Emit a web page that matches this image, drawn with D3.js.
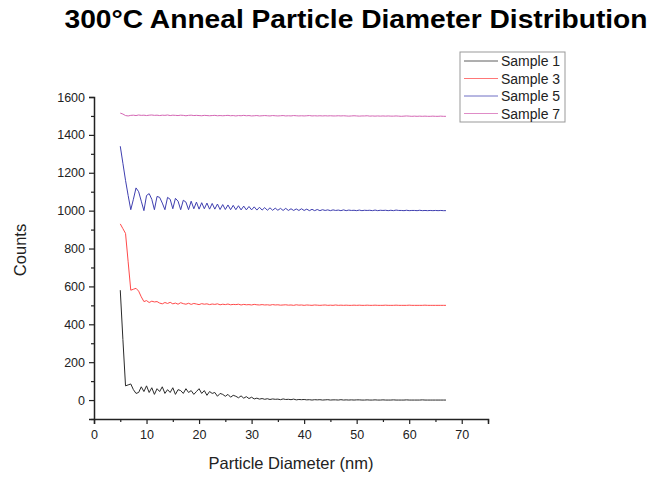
<!DOCTYPE html>
<html>
<head>
<meta charset="utf-8">
<script src="https://cdn.jsdelivr.net/npm/d3@7"></script>
<style>
  body { margin: 0; background: #fff; }
  svg { font-family: "Liberation Sans", Arial, sans-serif; }
</style>
</head>
<body>
<svg id="chart"></svg>
<script>
// bin centres (nm), shared by all samples
const diameters = [
  5, 5.5, 6, 6.5, 7, 7.5, 8, 8.5, 9, 9.5, 10, 10.5, 11, 11.5, 12, 12.5, 13, 13.5, 14, 14.5,
  15, 15.5, 16, 16.5, 17, 17.5, 18, 18.5, 19, 19.5, 20, 20.5, 21, 21.5, 22, 22.5, 23, 23.5, 24, 24.5,
  25, 25.5, 26, 26.5, 27, 27.5, 28, 28.5, 29, 29.5, 30, 30.5, 31, 31.5, 32, 32.5, 33, 33.5, 34, 34.5,
  35, 35.5, 36, 36.5, 37, 37.5, 38, 38.5, 39, 39.5, 40, 40.5, 41, 41.5, 42, 42.5, 43, 43.5, 44, 44.5,
  45, 45.5, 46, 46.5, 47, 47.5, 48, 48.5, 49, 49.5, 50, 50.5, 51, 51.5, 52, 52.5, 53, 53.5, 54, 54.5,
  55, 55.5, 56, 56.5, 57, 57.5, 58, 58.5, 59, 59.5, 60, 60.5, 61, 61.5, 62, 62.5, 63, 63.5, 64, 64.5,
  65, 65.5, 66, 66.5, 67
];

const sample1 = [
  580, 320, 75, 80, 85, 55, 35, 40, 70, 45, 75, 40, 65, 30, 60, 45, 70, 35, 55, 40,
  65, 30, 55, 50, 35, 60, 40, 50, 30, 45, 60, 35, 50, 25, 45, 35, 40, 20, 35, 30,
  20, 30, 15, 25, 20, 12, 22, 10, 18, 8, 15, 6, 10, 5, 8, 4, 7, 3, 6, 4,
  5, 2, 6, 3, 4, 2, 5, 1, 3, 2, 3, 1, 2, 0, 2, 1, 2, 0, 1, 2,
  0, 1, 1, 0, 2, 0, 1, 0, 1, 0, 1, 1, 0, 0, 1, 0, 0, 1, 0, 0,
  1, 0, 0, 0, 1, 0, 0, 0, 0, 1, 0, 0, 0, 0, 0, 1, 0, 0, 0, 0,
  0, 0, 0, 0, 0
];

const sample3 = [
  930, 905, 880, 730, 580, 585, 590, 575, 545, 520, 525, 515, 522, 518, 520, 512, 508, 515, 510, 516,
  508, 512, 506, 514, 509, 506, 511, 505, 510, 507, 504, 509, 506, 508, 504, 507, 505, 508, 503, 506,
  504, 507, 503, 505, 504, 506, 502, 505, 503, 504, 502, 505, 503, 502, 504, 502, 503, 501, 504, 502,
  503, 501, 502, 503, 501, 502, 500, 503, 501, 502, 500, 502, 501, 500, 502, 501, 500, 501, 502, 500,
  501, 500, 502, 500, 501, 500, 501, 500, 500, 501, 500, 501, 500, 500, 501, 500, 500, 501, 500, 500,
  500, 501, 500, 500, 500, 501, 500, 500, 500, 500, 501, 500, 500, 500, 500, 500, 501, 500, 500, 500,
  500, 500, 500, 500, 500
];

const sample5 = [
  1340, 1250, 1160, 1080, 1005, 1060, 1120, 1100, 1050, 1000, 1080, 1090, 1060, 1005, 1075, 1070, 1040, 1005, 1070, 1060,
  1010, 1065, 1050, 1005, 1055, 1045, 1005, 1050, 1010, 1045, 1008, 1042, 1010, 1040, 1008, 1038, 1008, 1035, 1006, 1032,
  1006, 1030, 1005, 1028, 1005, 1026, 1004, 1024, 1004, 1022, 1004, 1020, 1003, 1018, 1003, 1016, 1002, 1015, 1002, 1013,
  1002, 1012, 1001, 1012, 1001, 1010, 1001, 1009, 1001, 1010, 1001, 1008, 1000, 1007, 1000, 1006, 1000, 1005, 1001, 1004,
  1000, 1004, 1001, 1003, 1000, 1004, 1000, 1003, 1001, 1002, 1000, 1003, 1000, 1002, 1001, 1002, 1000, 1003, 1000, 1002,
  1001, 1002, 1000, 1002, 1000, 1003, 1001, 1001, 1000, 1002, 1000, 1001, 1001, 1000, 1002, 1000, 1001, 1000, 1001, 1000,
  1001, 1000, 1001, 1000, 1000
];

const sample7 = [
  1515, 1510, 1502, 1500, 1503, 1504, 1502, 1505, 1503, 1504, 1502, 1504, 1505, 1503, 1504, 1502, 1504, 1503, 1505, 1502,
  1504, 1503, 1502, 1504, 1503, 1501, 1503, 1504, 1502, 1503, 1502, 1501, 1503, 1502, 1501, 1502, 1503, 1501, 1502, 1501,
  1502, 1503, 1501, 1502, 1500, 1502, 1501, 1503, 1501, 1502, 1500, 1501, 1502, 1500, 1501, 1502, 1501, 1500, 1502, 1501,
  1500, 1501, 1502, 1500, 1501, 1500, 1502, 1501, 1500, 1501, 1500, 1501, 1502, 1500, 1501, 1500, 1501, 1500, 1501, 1500,
  1501, 1500, 1500, 1501, 1500, 1501, 1500, 1499, 1500, 1501, 1500, 1499, 1500, 1500, 1501, 1499, 1500, 1499, 1500, 1499,
  1500, 1499, 1500, 1499, 1499, 1500, 1499, 1498, 1499, 1500, 1499, 1498, 1499, 1498, 1499, 1498, 1499, 1498, 1498, 1499,
  1498, 1498, 1499, 1498, 1498
];

const seriesNames = ["Sample 1", "Sample 3", "Sample 5", "Sample 7"];
const seriesValues = [sample1, sample3, sample5, sample7];
const seriesColors = ["#2a2a2a", "#ff4a4a", "#3f3fb0", "#d466b4"];

const xTicks = [0, 10, 20, 30, 40, 50, 60, 70];
const xMinor = [5, 15, 25, 35, 45, 55, 65, 75];
const yTicks = [0, 200, 400, 600, 800, 1000, 1200, 1400, 1600];
const yMinor = [-100, 100, 300, 500, 700, 900, 1100, 1300, 1500];

const width = 650, height = 477;
const plotLeft = 94, plotRight = 488, plotTop = 97, plotBottom = 419;

const svg = d3.select('#chart').attr('width', width).attr('height', height);

const x = d3.scaleLinear().domain([0, 75]).range([plotLeft, plotRight]);
const y = d3.scaleLinear().domain([-100, 1600]).range([plotBottom, plotTop]);

// lines
const line = d3.line()
  .x((d, i) => x(diameters[i]))
  .y(d => y(d));

svg.append('g')
  .selectAll('path')
  .data(seriesValues)
  .enter()
  .append('path')
  .attr('d', line)
  .attr('fill', 'none')
  .attr('stroke', (d, i) => seriesColors[i])
  .attr('stroke-width', 1)
  .attr('stroke-linejoin', 'round');

// axes
svg.append('g')
  .attr('transform', `translate(0,${plotBottom})`)
  .call(d3.axisBottom(x).tickValues(xTicks).tickSize(5).tickPadding(6).tickFormat(d3.format('d')));
svg.append('g')
  .attr('transform', `translate(0,${plotBottom})`)
  .call(d3.axisBottom(x).tickValues(xMinor).tickSize(3).tickFormat(''))
  .select('.domain').remove();

svg.append('g')
  .attr('transform', `translate(${plotLeft},0)`)
  .call(d3.axisLeft(y).tickValues(yTicks).tickSize(5).tickPadding(4).tickFormat(d3.format('d')));
svg.append('g')
  .attr('transform', `translate(${plotLeft},0)`)
  .call(d3.axisLeft(y).tickValues(yMinor).tickSize(3).tickFormat(''))
  .select('.domain').remove();

svg.selectAll('.domain')
  .attr('stroke', '#222')
  .attr('stroke-width', 1.5);
svg.selectAll('.tick line')
  .attr('stroke', '#222')
  .attr('stroke-width', 1.2);
svg.selectAll('.tick text')
  .attr('font-size', 12.5)
  .attr('font-family', '"Liberation Sans", Arial, sans-serif')
  .attr('fill', '#222');

// title & axis labels
svg.append('text')
  .attr('x', 356)
  .attr('y', 28)
  .attr('text-anchor', 'middle')
  .attr('font-size', 25.5)
  .attr('font-weight', 'bold')
  .attr('fill', '#000')
  .attr('textLength', 583)
  .attr('lengthAdjust', 'spacingAndGlyphs')
  .text('300°C Anneal Particle Diameter Distribution');

svg.append('text')
  .attr('x', 291)
  .attr('y', 469)
  .attr('text-anchor', 'middle')
  .attr('font-size', 16.5)
  .attr('fill', '#222')
  .text('Particle Diameter (nm)');

svg.append('text')
  .attr('transform', 'translate(26,250) rotate(-90)')
  .attr('text-anchor', 'middle')
  .attr('font-size', 16.5)
  .attr('fill', '#222')
  .text('Counts');

// legend
const legend = svg.append('g').attr('transform', 'translate(460,52)');
legend.append('rect')
  .attr('width', 105)
  .attr('height', 70)
  .attr('fill', '#fff')
  .attr('stroke', '#999')
  .attr('stroke-width', 1);

const items = legend.selectAll('g.item')
  .data(seriesNames)
  .enter()
  .append('g')
  .attr('class', 'item')
  .attr('transform', (d, i) => `translate(0,${9 + i * 17.5})`);

items.append('line')
  .attr('x1', 4).attr('x2', 38)
  .attr('stroke', (d, i) => seriesColors[i])
  .attr('stroke-opacity', 0.75)
  .attr('stroke-width', 1);

items.append('text')
  .attr('x', 41)
  .attr('y', 5)
  .attr('font-size', 14)
  .attr('fill', '#222')
  .text(d => d);
</script>
</body>
</html>
